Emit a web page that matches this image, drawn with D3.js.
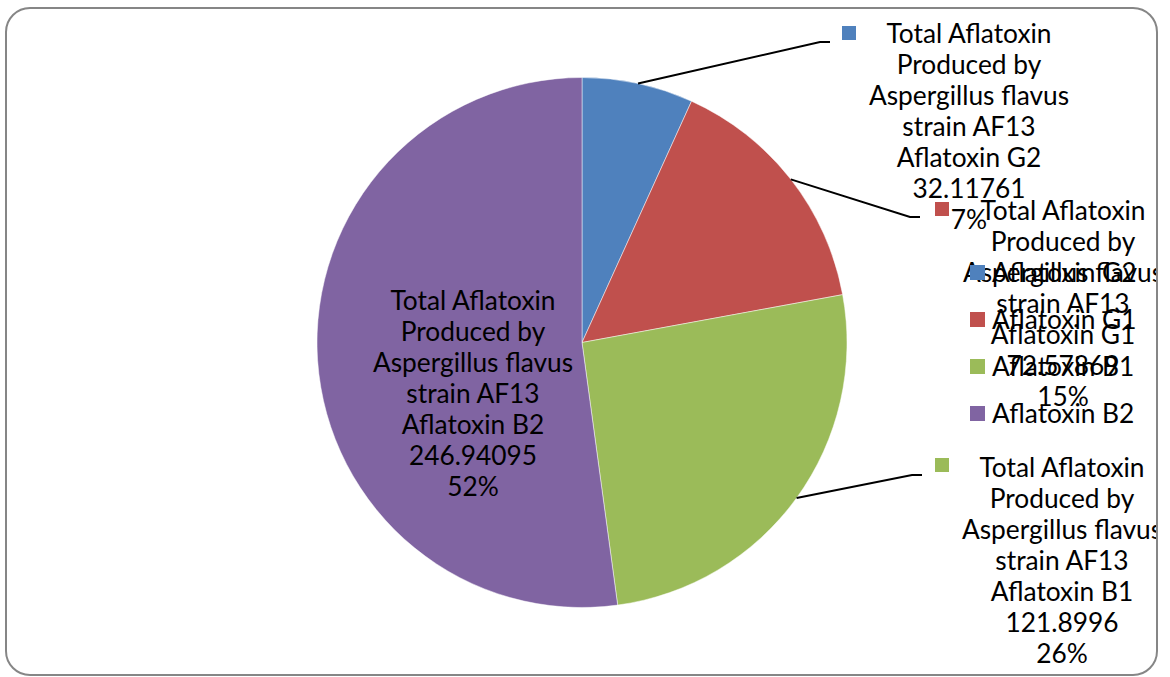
<!DOCTYPE html>
<html>
<head>
<meta charset="utf-8">
<script src="https://cdn.jsdelivr.net/npm/d3@7"></script>
<style>
  html, body { margin: 0; padding: 0; background: #fff; }
  svg { display: block; }
  text { font-family: Lato, "Open Sans", sans-serif; fill: #000; }
</style>
</head>
<body>
<svg id="chart" width="1170" height="677"></svg>
<script>
// ---- data ----
const categories = ["Aflatoxin G2", "Aflatoxin G1", "Aflatoxin B1", "Aflatoxin B2"];
const values = [32.11761, 72.57869, 121.8996, 246.94095];
const valueLabels = ["32.11761", "72.57869", "121.8996", "246.94095"];
const seriesName = ["Total Aflatoxin", "Produced by", "Aspergillus flavus", "strain AF13"];
const colors = ["#4F81BD", "#C0504D", "#9BBB59", "#8064A2"];

// ---- layout ----
const W = 1170, H = 677;
const cx = 582, cy = 342.5, R = 265;
const fontSize = 26.3, lineH = 31;
// label placement: text centre x, first line y, leader elbow (ex, ey) or null for inside label
const labelLayout = [
  { tx: 969, ty: 33, ex: 820, ey: 42, marker: [842, 26] },
  { tx: 1063, ty: 210, ex: 910, ey: 217, marker: [935, 202] },
  { tx: 1062, ty: 467, ex: 912, ey: 475, marker: [935, 458] },
  { tx: 473, ty: 300, ex: null, ey: null, marker: null }
];
const legendLayout = { x: 970, y0: 272, dy: 47, size: 15 };

const svg = d3.select("#chart");
svg.append("defs").append("clipPath").attr("id", "clip")
  .append("rect").attr("x", 6).attr("y", 8).attr("width", 1151).attr("height", 667).attr("rx", 24);

const g = svg.append("g").attr("clip-path", "url(#clip)");

const total = d3.sum(values);
const pie = d3.pie().sort(null).value(d => d)(values);
const arc = d3.arc().innerRadius(0).outerRadius(R);

const pieG = g.append("g").attr("transform", `translate(${cx},${cy})`);
pieG.selectAll("path").data(pie).join("path")
  .attr("d", arc)
  .attr("fill", (d, i) => colors[i])
  .attr("stroke", "#ffffff")
  .attr("stroke-opacity", 0.6)
  .attr("stroke-width", 0.8);

// leader lines
pie.forEach((d, i) => {
  const L = labelLayout[i];
  if (L.ex == null) return;
  const a = (d.startAngle + d.endAngle) / 2;
  const sx = cx + R * Math.sin(a), sy = cy - R * Math.cos(a);
  g.append("polyline")
    .attr("points", `${sx},${sy} ${L.ex},${L.ey} ${L.ex + 10},${L.ey}`)
    .attr("fill", "none").attr("stroke", "#000").attr("stroke-width", 2);
});

// data labels
pie.forEach((d, i) => {
  const L = labelLayout[i];
  const pct = Math.round(values[i] / total * 100) + "%";
  const lines = seriesName.concat([categories[i], valueLabels[i], pct]);
  if (L.marker) {
    g.append("rect").attr("x", L.marker[0]).attr("y", L.marker[1])
      .attr("width", 14).attr("height", 14).attr("fill", colors[i]);
  }
  const t = g.append("text").attr("text-anchor", "middle").attr("font-size", fontSize);
  lines.forEach((s, k) => {
    t.append("tspan").attr("x", L.tx).attr("y", L.ty + k * lineH)
      .attr("dominant-baseline", "central").text(s);
  });
});

// legend
categories.forEach((c, i) => {
  const y = legendLayout.y0 + i * legendLayout.dy;
  g.append("rect").attr("x", legendLayout.x).attr("y", y - 7)
    .attr("width", legendLayout.size).attr("height", legendLayout.size).attr("fill", colors[i]);
  g.append("text").attr("x", legendLayout.x + 22).attr("y", y)
    .attr("dominant-baseline", "central").attr("font-size", fontSize).text(c);
});

// border
svg.append("rect").attr("x", 6).attr("y", 8).attr("width", 1151).attr("height", 667).attr("rx", 24)
  .attr("fill", "none").attr("stroke", "#868686").attr("stroke-width", 2);
</script>
</body>
</html>
